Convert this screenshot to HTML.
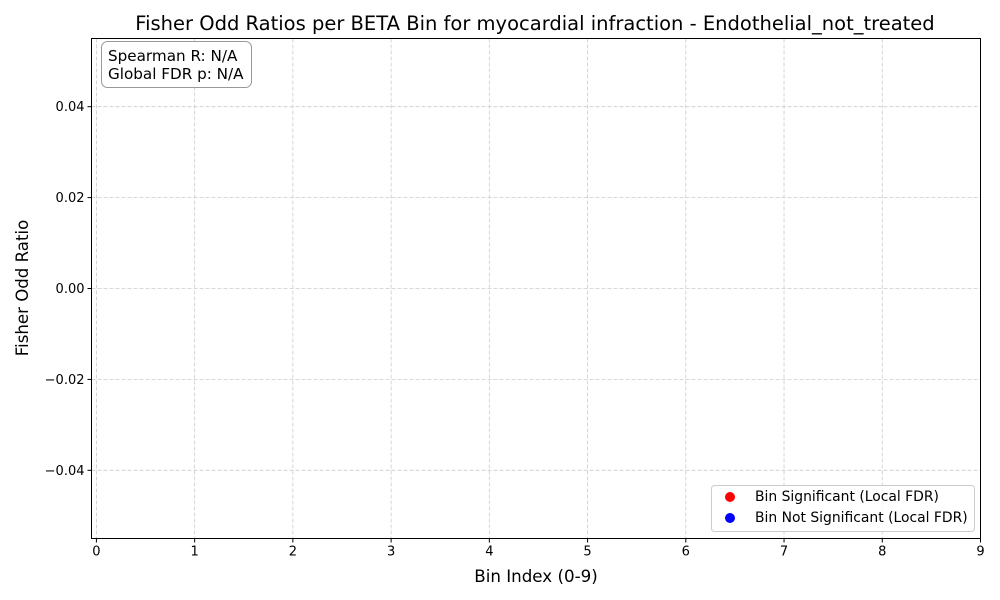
<!DOCTYPE html>
<html><head><meta charset="utf-8"><style>
html,body{margin:0;padding:0;background:#fff;}
svg{display:block;font-family:"DejaVu Sans","Liberation Sans",sans-serif;}
</style></head><body>
<svg id="chart" width="1000" height="600" viewBox="0 0 1000 600">
<rect x="0" y="0" width="1000" height="600" fill="#fff"/>
<text x="535" y="30" text-anchor="middle" font-size="19.5">Fisher Odd Ratios per BETA Bin for myocardial infraction - Endothelial_not_treated</text>
<g id="grid"></g>
<g id="marks"></g>
<rect x="91.5" y="38.5" width="889" height="500" fill="none" stroke="#000" stroke-width="1"/>
<g id="xticks"></g>
<g id="yticks"></g>
<text x="536" y="582" text-anchor="middle" font-size="16.7">Bin Index (0-9)</text>
<text transform="translate(28,288) rotate(-90)" text-anchor="middle" font-size="16.6">Fisher Odd Ratio</text>
<g>
<rect x="101.5" y="41.5" width="150" height="46" rx="6" fill="#fff" stroke="#999" stroke-width="1"/>
<text x="108" y="61" font-size="15.2">Spearman R: N/A</text>
<text x="108" y="79" font-size="15.2">Global FDR p: N/A</text>
</g>
<g>
<rect x="711.5" y="485.5" width="263" height="46" rx="3" fill="#fff" fill-opacity="0.8" stroke="#ccc" stroke-width="1"/>
<g>
<circle cx="730" cy="497" r="5" fill="red"/>
<text x="755" y="501" font-size="13.9">Bin Significant (Local FDR)</text>
</g>
<g>
<circle cx="730" cy="518" r="5" fill="blue"/>
<text x="755" y="522" font-size="13.9">Bin Not Significant (Local FDR)</text>
</g>
</g>
</svg>
<script>
const binIndex = [];
const oddRatios = [];
const significant = [];
const xTickLabels = ["0","1","2","3","4","5","6","7","8","9"];
const yTickValues = [-0.04,-0.02,0.00,0.02,0.04];
const yTickLabels = ["\u22120.04","\u22120.02","0.00","0.02","0.04"];

const X0=91.5,X1=980.5,Y0=38.5,Y1=538.5;
const xMin=-0.05,xMax=9,yMin=-0.055,yMax=0.055;
function xs(v){return X0+(v-xMin)/(xMax-xMin)*(X1-X0);}
function ys(v){return Y1-(v-yMin)/(yMax-yMin)*(Y1-Y0);}
const NS="http://www.w3.org/2000/svg";
function mk(t,a){const e=document.createElementNS(NS,t);for(const k in a)e.setAttribute(k,a[k]);return e;}
const grid=document.getElementById('grid'),xt=document.getElementById('xticks'),yt=document.getElementById('yticks'),marks=document.getElementById('marks');
xTickLabels.forEach((l,i)=>{
  const x=xs(+l);
  const g=mk('line',{x1:x,x2:x,y1:Y0,y2:Y1,stroke:'#ccc','stroke-dasharray':'4,2','stroke-width':0.8});
  
  
  grid.appendChild(g);
  const tk=mk('line',{x1:x,x2:x,y1:Y1,y2:Y1+4,stroke:'#000'});
  
  
  xt.appendChild(tk);
  const t=mk('text',{x:x,y:Y1+17,'text-anchor':'middle','font-size':13});
  t.textContent=l;
  
  
  xt.appendChild(t);
});
yTickValues.forEach((v,i)=>{
  const y=ys(v);
  const g=mk('line',{x1:X0,x2:X1,y1:y,y2:y,stroke:'#ccc','stroke-dasharray':'4,2','stroke-width':0.8});
  
  
  grid.appendChild(g);
  const tk=mk('line',{x1:X0-4,x2:X0,y1:y,y2:y,stroke:'#000'});
  
  
  yt.appendChild(tk);
  const t=mk('text',{x:X0-7,y:y+4.5,'text-anchor':'end','font-size':13});
  t.textContent=yTickLabels[i];
  
  
  yt.appendChild(t);
});
binIndex.forEach((b,i)=>{
  const c=mk('circle',{cx:xs(b),cy:ys(oddRatios[i]),r:5,fill:significant[i]?'red':'blue'});
  
  
  marks.appendChild(c);
});
</script>
</body></html>
